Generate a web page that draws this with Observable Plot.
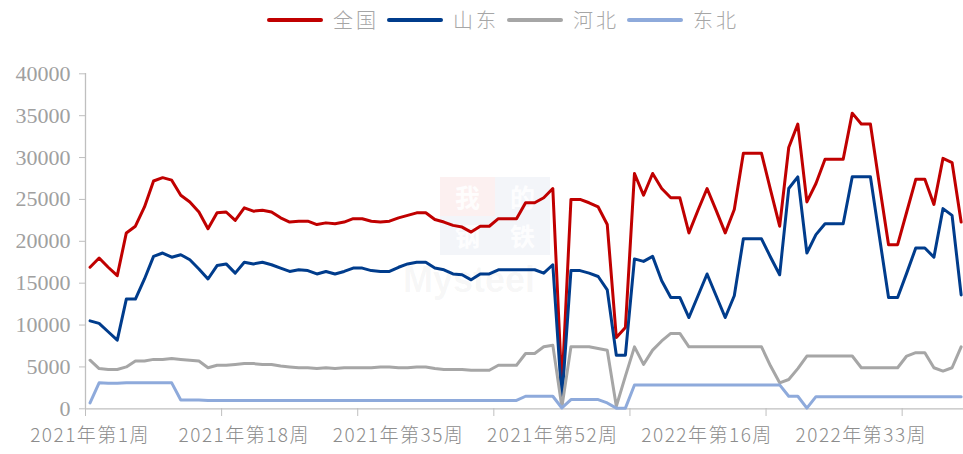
<!DOCTYPE html>
<html>
<head>
<meta charset="utf-8">
<script src="https://cdn.jsdelivr.net/npm/d3@7"></script>
<script src="https://cdn.jsdelivr.net/npm/@observablehq/plot@0.6"></script>
<style>
  html, body { margin: 0; padding: 0; background: #fff; }
  body { width: 963px; height: 454px; overflow: hidden; position: relative;
         font-family: "Noto Sans CJK SC", "Noto Sans", sans-serif; }
  #legend { position: relative; height: 40px; }
  #legend .items { position: absolute; left: 267px; top: 0; height: 40px;
                   display: flex; align-items: center; }
  #legend .sw { display: inline-block; width: 56px; height: 4px; border-radius: 2px; }
  #legend .lb { margin-left: 10px; margin-right: 8px; font-size: 20px; letter-spacing: 3px;
                color: #a6a6a6; font-weight: 300; line-height: 20px; }
  #chart { position: relative; z-index: 1; }
  #wm { position: absolute; left: 0; top: 0; width: 963px; height: 454px; z-index: 0; pointer-events: none; }
  #wm .cell { position: absolute; width: 55px; height: 39px; }
  #wm .cell span { position: absolute; left: 0; right: 0; top: 5px; text-align: center;
                   font-size: 25px; line-height: 29px; color: rgba(255,255,255,0.9); font-weight: 700; }
  #wm .red { background: rgba(220,60,60,0.08); }
  #wm .blue { background: rgba(90,110,170,0.07); }
  #wm .en { position: absolute; left: 403px; top: 262px; font-family: "Liberation Sans", sans-serif;
            font-size: 36px; line-height: 36px; font-weight: 700; color: rgba(140,140,140,0.07); }
</style>
</head>
<body>
<div id="wm">
  <div class="cell red" style="left:440px;top:177px"><span>我</span></div>
  <div class="cell blue" style="left:495px;top:177px"><span>的</span></div>
  <div class="cell blue" style="left:440px;top:216px"><span>钢</span></div>
  <div class="cell blue" style="left:495px;top:216px"><span>铁</span></div>
  <div class="en">Mysteel</div>
</div>
<div id="legend"><div class="items"></div></div>
<div id="chart"></div>
<script>
// ---- categories (weeks) ----
const categories = [];
for (let w = 1; w <= 53; w++) categories.push(`2021年第${w}周`);
for (let w = 1; w <= 44; w++) categories.push(`2022年第${w}周`);

// ---- series ----
const seriesNames = ["全国", "山东", "河北", "东北"];
const seriesColors = ["#c00000", "#003c8c", "#a6a6a6", "#8eaadb"];

const quanguo = [
  16900, 18000, 16900, 15900, 21000, 21800, 24100, 27200, 27600, 27300,
  25500, 24700, 23500, 21500, 23400, 23500, 22500, 24000, 23600, 23700,
  23500, 22800, 22300, 22400, 22400, 22000, 22200, 22100, 22300, 22700,
  22700, 22400, 22300, 22400, 22800, 23100, 23400, 23400, 22600, 22300,
  21900, 21700, 21100, 21800, 21800, 22700, 22700, 22700, 24600, 24600,
  25200, 26300, 2500, 25000, 25000, 24600, 24100, 22000, 8500, 9700,
  28100, 25500, 28100, 26300, 25200, 25200, 21000, 23700, 26300, 23700,
  21000, 23800, 30500, 30500, 30500, 26100, 21800, 31200, 34000, 24700,
  26900, 29800, 29800, 29800, 35300, 34000, 34000, 26700, 19600, 19600,
  23500, 27400, 27400, 24400, 29900, 29400, 22300
];
const shandong = [
  10500, 10200, 9200, 8200, 13100, 13100, 15500, 18200, 18600, 18100,
  18400, 17800, 16700, 15500, 17100, 17300, 16200, 17500, 17300, 17500,
  17200, 16800, 16400, 16600, 16500, 16100, 16400, 16100, 16400, 16800,
  16800, 16500, 16400, 16400, 16900, 17300, 17500, 17500, 16800, 16600,
  16100, 16000, 15400, 16100, 16100, 16600, 16600, 16600, 16600, 16600,
  16200, 17200, 1100, 16500, 16500, 16200, 15800, 14200, 6400, 6400,
  17900, 17600, 18200, 15300, 13300, 13300, 10900, 13500, 16100, 13500,
  10900, 13500, 20300, 20300, 20300, 18100, 16000, 26300, 27700, 18600,
  20800, 22100, 22100, 22100, 27700, 27700, 27700, 20500, 13300, 13300,
  16200, 19200, 19200, 18100, 23900, 23100, 13600
];
const hebei = [
  5800, 4800, 4700, 4700, 5000, 5700, 5700, 5900, 5900, 6000,
  5900, 5800, 5700, 4900, 5200, 5200, 5300, 5400, 5400, 5300,
  5300, 5100, 5000, 4900, 4900, 4800, 4900, 4800, 4900, 4900,
  4900, 4900, 5000, 5000, 4900, 4900, 5000, 5000, 4800, 4700,
  4700, 4700, 4600, 4600, 4600, 5200, 5200, 5200, 6600, 6600,
  7400, 7600, 200, 7400, 7400, 7400, 7200, 7000, 300, 3900,
  7400, 5300, 7000, 8100, 9000, 9000, 7400, 7400, 7400, 7400,
  7400, 7400, 7400, 7400, 7400, 5100, 3100, 3500, 4800, 6300,
  6300, 6300, 6300, 6300, 6300, 4900, 4900, 4900, 4900, 4900,
  6300, 6700, 6700, 4900, 4500, 4900, 7400
];
const dongbei = [
  700, 3100, 3050, 3050, 3100, 3100, 3100, 3100, 3100, 3100,
  1050, 1050, 1050, 1000, 1000, 1000, 1000, 1000, 1000, 1000,
  1000, 1000, 1000, 1000, 1000, 1000, 1000, 1000, 1000, 1000,
  1000, 1000, 1000, 1000, 1000, 1000, 1000, 1000, 1000, 1000,
  1000, 1000, 1000, 1000, 1000, 1000, 1000, 1000, 1500, 1500,
  1500, 1500, 100, 1100, 1100, 1100, 1100, 700, 80, 80,
  2850, 2850, 2850, 2850, 2850, 2850, 2850, 2850, 2850, 2850,
  2850, 2850, 2850, 2850, 2850, 2850, 2850, 1500, 1500, 80,
  1450, 1450, 1450, 1450, 1450, 1450, 1450, 1450, 1450, 1450,
  1450, 1450, 1450, 1450, 1450, 1450, 1450
];
const seriesValues = [quanguo, shandong, hebei, dongbei];

// ---- axis ticks ----
const yTicks = [0, 5000, 10000, 15000, 20000, 25000, 30000, 35000, 40000];
const xLabelEvery = 17;
const xTickEvery = 15;

// ---- build table ----
const rows = [];
seriesNames.forEach((name, k) => {
  seriesValues[k].forEach((v, i) => rows.push({name, i, v}));
});
const N = categories.length;
const labelIdx = d3.range(0, N, xLabelEvery);
const tickPos = d3.range(0, N, xTickEvery).map(i => i - 0.5);

// ---- legend ----
const items = d3.select("#legend .items");
seriesNames.forEach((name, k) => {
  items.append("span").attr("class", "sw").style("background", seriesColors[k]);
  items.append("span").attr("class", "lb").text(name);
});

// ---- chart ----
const step = 9.074;
const chart = Plot.plot({
  width: 963,
  height: 414,
  marginLeft: 85,
  marginRight: 0,
  marginTop: 33,
  marginBottom: 46,
  style: {background: "transparent", overflow: "visible", fontFamily: "'Noto Sans CJK SC', sans-serif"},
  x: {type: "linear", domain: [-0.5, N - 0.5], range: [85, 85 + N * step]},
  y: {domain: [0, 40000], range: [368.3, 33.3]},
  color: {domain: seriesNames, range: seriesColors},
  marks: [
    Plot.ruleX([-0.5], {stroke: "#bfbfbf", strokeWidth: 1.3}),
    Plot.axisY({ticks: yTicks, tickSize: 6, tickPadding: 9, label: null,
                stroke: "#bfbfbf", fill: "#a0a0a0", fontSize: 22,
                fontFamily: "'Liberation Serif', serif", tickFormat: d => String(d)}),
    Plot.axisX({ticks: tickPos, tickSize: 8, label: null, stroke: "#bfbfbf",
                tickFormat: () => ""}),
    Plot.axisX({ticks: labelIdx, tickSize: 0, tickPadding: 20, label: null,
                fill: "#8c8c8c", fontSize: 19, fontWeight: 300,
                tickFormat: i => categories[i]}),
    Plot.ruleY([0], {stroke: "#bfbfbf", strokeWidth: 1.3}),
    Plot.lineY(rows, {x: "i", y: "v", z: "name", stroke: "name",
                      strokeWidth: 3, strokeLinejoin: "round"})
  ]
});
chart.querySelectorAll('g[aria-label="x-axis tick label"] text').forEach(t => t.setAttribute("letter-spacing", "1.5"));
document.getElementById("chart").appendChild(chart);
</script>
</body>
</html>
